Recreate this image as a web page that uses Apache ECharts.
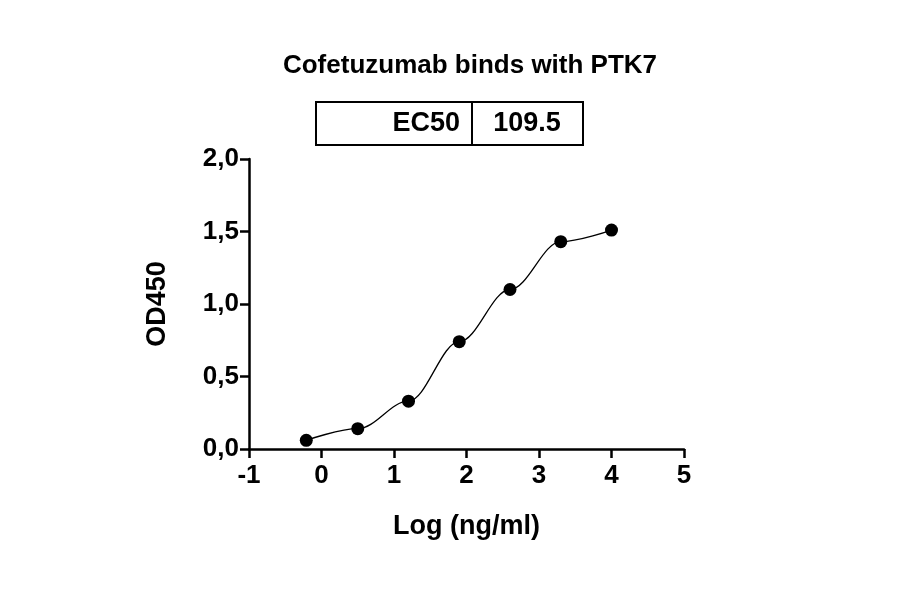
<!DOCTYPE html>
<html>
<head>
<meta charset="utf-8">
<script src="https://cdn.jsdelivr.net/npm/echarts@6/dist/echarts.min.js"></script>
<style>html,body{margin:0;background:#fff}#c{width:900px;height:594px}</style>
</head>
<body>
<div id="c"></div>
<script>
// values
const logConc = [-0.21, 0.5, 1.2, 1.9, 2.6, 3.3, 4.0];
const od450 = [0.06, 0.14, 0.33, 0.74, 1.10, 1.43, 1.51];
const ec50Label = 'EC50';
const ec50Value = '109.5';

const chart = echarts.init(document.getElementById('c'));
const pts = logConc.map((x, i) => [x, od450[i]]);
const font = 'Liberation Sans, Arial, sans-serif';
const axisCommon = {
  axisTick: { show: true, length: 9, lineStyle: { color: '#000', width: 2.5 } },
  splitLine: { show: false },
  nameTextStyle: { color: '#000', fontSize: 27, fontWeight: 'bold', fontFamily: font }
};
chart.setOption({
  animation: false,
  title: {
    text: 'Cofetuzumab binds with PTK7',
    left: 465, top: 48, textAlign: 'center',
    textStyle: { color: '#000', fontSize: 26, fontWeight: 'bold', fontFamily: font }
  },
  grid: { left: 249, right: 216, top: 159, bottom: 145 },
  xAxis: Object.assign({
    type: 'value', min: -1, max: 5, interval: 1,
    name: 'Log (ng/ml)', nameLocation: 'middle', nameGap: 64,
    axisLine: { show: true, onZero: false, lineStyle: { color: '#000', width: 2.5 } },
    axisLabel: { color: '#000', fontSize: 26, fontWeight: 'bold', fontFamily: font, margin: 14 }
  }, axisCommon),
  yAxis: Object.assign({
    type: 'value', min: 0, max: 2, interval: 0.5,
    name: 'OD450', nameLocation: 'middle', nameGap: 78,
    axisLine: { show: true, onZero: false, lineStyle: { color: '#000', width: 2.5 } },
    axisLabel: { color: '#000', fontSize: 26, fontWeight: 'bold', fontFamily: font, margin: 10,
      formatter: v => v.toFixed(1).replace('.', ',') }
  }, axisCommon),
  graphic: [
    { type: 'rect', shape: { x: 316, y: 102, width: 267, height: 43 },
      style: { fill: 'none', stroke: '#000', lineWidth: 2 } },
    { type: 'line', shape: { x1: 472, y1: 102, x2: 472, y2: 145 },
      style: { stroke: '#000', lineWidth: 2 } },
    { type: 'text', style: { text: ec50Label, x: 460, y: 124, align: 'right', verticalAlign: 'middle',
      fill: '#000', font: 'bold 27px ' + font } },
    { type: 'text', style: { text: ec50Value, x: 527, y: 124, align: 'center', verticalAlign: 'middle',
      fill: '#000', font: 'bold 27px ' + font } }
  ],
  series: [
    { type: 'line', data: pts, smooth: 0.35, smoothMonotone: 'x', symbol: 'none',
      lineStyle: { color: '#000', width: 1.3 } },
    { type: 'scatter', data: pts, symbolSize: 13, itemStyle: { color: '#000', opacity: 1 } }
  ]
});
</script>
</body>
</html>
